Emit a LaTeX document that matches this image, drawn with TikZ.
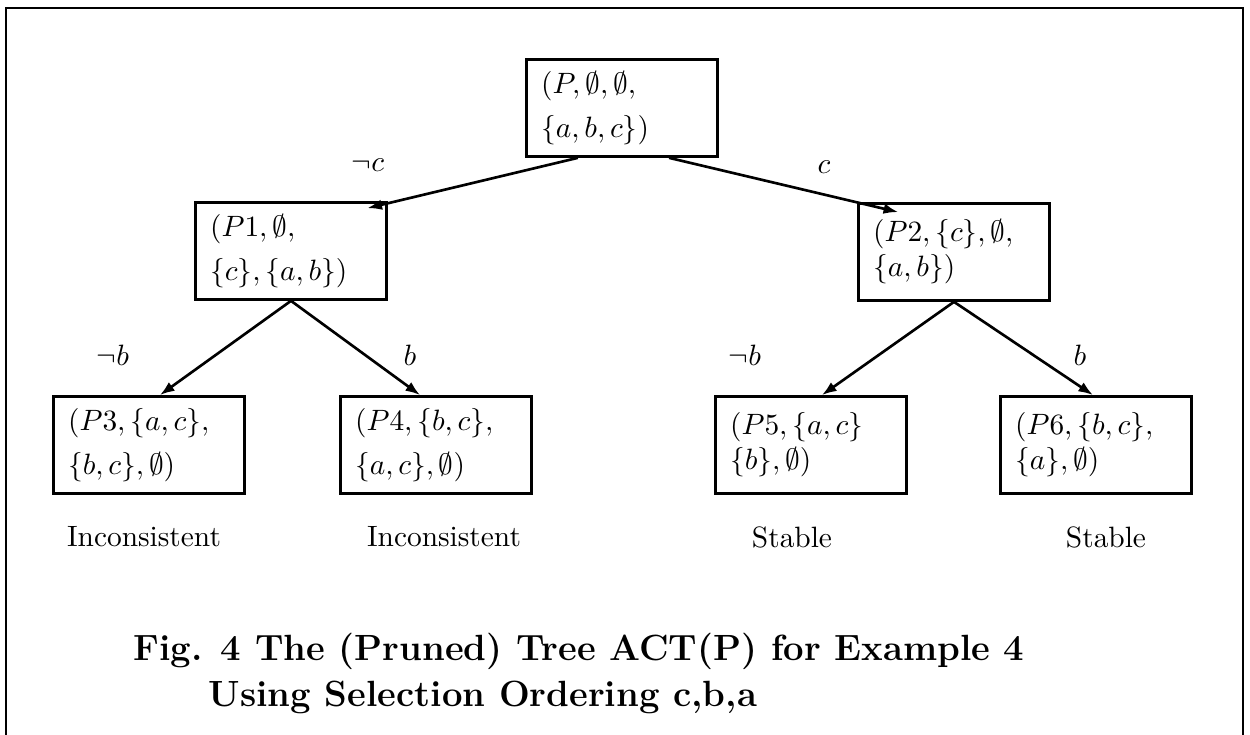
\documentclass[tikz,border=0pt]{standalone}
\usetikzlibrary{arrows.meta}
\begin{document}
\begin{tikzpicture}[x=0.34pt,y=-0.34pt,
  state/.style={draw,line width=0.9pt,rectangle,text width=55pt,align=left,
    minimum height=33pt,inner xsep=5pt,inner ysep=0pt},
  edge/.style={line width=0.9pt,-{Latex[length=5pt,width=3.6pt]}},
  caption/.style={anchor=west,inner sep=0pt,font=\fontsize{12.4}{15}\selectfont\bfseries}]
\useasboundingbox (0,0) rectangle (1250,735);
% frame, open at the bottom
\draw[line width=1pt] (6,735) -- (6,8) -- (1243,8) -- (1243,735);

% the tree
\node[state] (root) at (622,108) {$(P,\emptyset,\emptyset,$\\[3pt]$\{a,b,c\})$};
\node[state] (p1) at (291,251) {$(P1,\emptyset,$\\[3pt]$\{c\},\{a,b\})$};
\node[state] (p2) at (954,252) {$(P2,\{c\},\emptyset,$\\$\{a,b\})$};
\node[state] (p3) at (149,445) {$(P3,\{a,c\},$\\[3pt]$\{b,c\},\emptyset)$};
\node[state] (p4) at (436,445) {$(P4,\{b,c\},$\\[3pt]$\{a,c\},\emptyset)$};
\node[state] (p5) at (811,445) {$(P5,\{a,c\}$\\$\{b\},\emptyset)$};
\node[state] (p6) at (1096,445) {$(P6,\{b,c\},$\\$\{a\},\emptyset)$};

\draw[edge] ([xshift=-15pt]root.south) -- ([xshift=-7pt,yshift=-2.4pt]p1.north east);
\draw[edge] ([xshift=16pt]root.south) -- ([xshift=14pt,yshift=-3.4pt]p2.north west);
\draw[edge] (p1.south) -- ([xshift=3.7pt]p3.north);
\draw[edge] (p1.south) -- ([xshift=-5.4pt]p4.north);
\draw[edge] (p2.south) -- ([xshift=3.7pt]p5.north);
\draw[edge] (p2.south) -- ([xshift=-1pt]p6.north);

% branch labels
\foreach \name/\x/\y/\txt in {lnc/368/165/\neg c, lc/824/167/c,
    lnb1/113/355/\neg b, lb1/410/355/b, lnb2/745/355/\neg b, lb2/1080/355/b}
  \node (\name) at (\x,\y) {$\txt$};

% results
\foreach \name/\x/\txt in {res3/144/Inconsistent, res4/444/Inconsistent,
    res5/792/Stable, res6/1106/Stable}
  \node (\name) at (\x,537) {\txt};

\node[caption] (capa) at (133,651) {Fig. 4 The (Pruned) Tree ACT(P) for Example 4};
\node[caption] (capb) at (208,697) {Using Selection Ordering c,b,a};
\end{tikzpicture}
\end{document}
